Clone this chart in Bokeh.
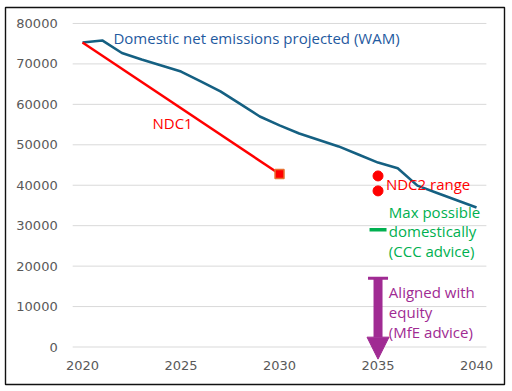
from bokeh.plotting import figure
from bokeh.models import Range1d, FixedTicker, Label, Arrow, NormalHead, TeeHead
from bokeh.embed import file_html
from bokeh.resources import INLINE

# ---- data ----
years = list(range(2020, 2041))
wam = [75300, 75800, 72700, 71100, 69600, 68100, 65700, 63200, 60100, 57000, 54800,
       52800, 51200, 49600, 47600, 45600, 44200, 39900, 38100, 36300, 34500]
ndc1_years = [2020, 2030]
ndc1_vals = [75300, 42800]
ndc1_end_year = [2030]
ndc1_end_val = [42800]
ndc2_years = [2035, 2035]
ndc2_vals = [42300, 38600]
ccc_year = [2035]
ccc_val = [29000]
mfe_year = 2035
mfe_top = 17000
mfe_bottom = -3000
y_ticks = [0, 10000, 20000, 30000, 40000, 50000, 60000, 70000, 80000]
x_ticks = [2020, 2025, 2030, 2035, 2040]
x_start, x_end = 2019.5, 2040.5   # category axis bounds (plot area)

FONT = "Open Sans"
TICK_FONT = "DejaVu Sans"
BLUE = "#156082"
RED = "#FF0000"
GREEN = "#00B050"
PURPLE = "#A02B93"

# frame == outer chart border; the plot area sits inside it
p = figure(width=510, height=390, output_backend="svg", toolbar_location=None,
           x_range=Range1d(2016.09, 2041.42), y_range=Range1d(-9270, 83950),
           min_border_left=5, min_border_right=6, min_border_top=7, min_border_bottom=6)
p.outline_line_color = "#111111"
p.outline_line_width = 1.4
p.xgrid.grid_line_color = None
p.ygrid.grid_line_color = None
p.yaxis.ticker = FixedTicker(ticks=y_ticks)
p.xaxis.ticker = FixedTicker(ticks=x_ticks)
p.yaxis.fixed_location = x_start
p.xaxis.fixed_location = -3100
for ax in (p.xaxis, p.yaxis):
    ax.axis_line_color = None
    ax.major_tick_line_color = None
    ax.minor_tick_line_color = None
    ax.major_tick_in = 0
    ax.major_tick_out = 0
    ax.major_label_text_font = TICK_FONT
    ax.major_label_text_font_size = "13px"
    ax.major_label_text_color = "#595959"
p.yaxis.major_label_standoff = 15
p.xaxis.major_label_standoff = 1

# horizontal gridlines limited to the plot area
p.segment(x0=[x_start] * len(y_ticks), y0=y_ticks, x1=[x_end] * len(y_ticks), y1=y_ticks,
          line_color="#D9D9D9", line_width=1, level="underlay")

p.line(years, wam, line_color=BLUE, line_width=2.6)
p.line(ndc1_years, ndc1_vals, line_color=RED, line_width=2.5)
p.scatter(ndc1_end_year, ndc1_end_val, marker="square", size=9, fill_color=RED,
          line_color="#E97132", line_width=1.5)
p.scatter(ndc2_years, ndc2_vals, marker="circle", size=10, fill_color=RED, line_color=RED)
p.scatter(ccc_year, ccc_val, marker="dash", size=17, line_color=GREEN, line_width=3.5)

p.add_layout(Arrow(x_start=mfe_year, y_start=mfe_top, x_end=mfe_year, y_end=mfe_bottom,
                   line_color=PURPLE, line_width=9,
                   start=TeeHead(size=20, line_color=PURPLE, line_width=3),
                   end=NormalHead(size=22, fill_color=PURPLE, line_color=PURPLE, line_width=1)))

def lab(x, y, t, c):
    p.add_layout(Label(x=x, y=y, text=t, text_color=c, text_font=FONT,
                       text_font_size="15px", text_baseline="middle", text_align="left"))

lab(2021.57, 76300, "Domestic net emissions projected (WAM)", "#1F5AA0")
lab(2023.55, 55500, "NDC1", RED)
lab(2035.4, 40400, "NDC2 range", RED)
lab(2035.55, 33300, "Max possible", GREEN)
lab(2035.55, 28600, "domestically", GREEN)
lab(2035.55, 23850, "(CCC advice)", GREEN)
lab(2035.55, 13550, "Aligned with", PURPLE)
lab(2035.55, 8600, "equity", PURPLE)
lab(2035.55, 3650, "(MfE advice)", PURPLE)

open("out.html", "w").write(file_html(p, INLINE))
